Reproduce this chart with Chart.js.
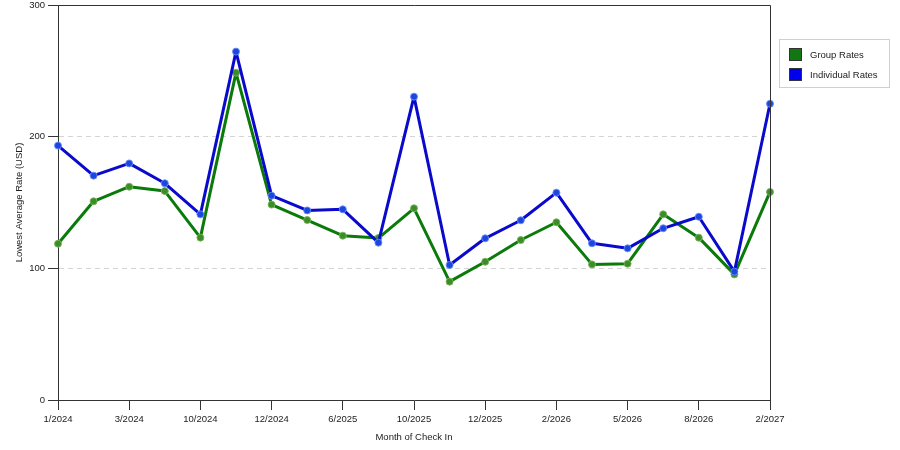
<!DOCTYPE html>
<html>
<head>
<meta charset="utf-8">
<script src="https://cdn.jsdelivr.net/npm/chart.js@4"></script>
<style>
  html, body { margin: 0; padding: 0; background: #fff; }
  #wrap { position: relative; width: 900px; height: 450px; }
  #legend { position: absolute; left: 779px; top: 39px; width: 109px; height: 47px;
    border: 1px solid #d0d0d0; font-family: "Liberation Sans", Arial, sans-serif; font-size: 9.5px; color: #222; }
  .item { position: absolute; left: 9px; height: 13px; line-height: 13px; white-space: nowrap; }
  .sw { display: inline-block; width: 11px; height: 11px; border: 1px solid #333; vertical-align: top; margin-right: 8px; }
</style>
</head>
<body>
<div id="wrap">
  <canvas id="c" width="900" height="450"></canvas>
  <div id="legend"></div>
</div>
<script>
const categories = ["1/2024", "", "3/2024", "", "10/2024", "", "12/2024", "", "6/2025", "", "10/2025", "",
  "12/2025", "", "2/2026", "", "5/2026", "", "8/2026", "", "2/2027"];
const groupRates = [118.7, 150.9, 162, 158.7, 123.3, 248.6, 148.4, 136.7, 124.8, 123, 145.6,
  89.9, 105, 121.5, 135, 103, 103.5, 141, 123.3, 95.4, 158];
const individualRates = [193.2, 170.4, 179.7, 164.6, 141, 264.6, 155.2, 144, 144.8, 119.5, 230.4,
  102.5, 122.8, 136.5, 157.5, 119, 115.2, 130.4, 139.2, 97.5, 225];
const seriesNames = ["Group Rates", "Individual Rates"];
const yTicks = [0, 100, 200, 300];

const FONT = { family: "'Liberation Sans', Arial, sans-serif", size: 9.5 };
const TXT = '#222';

const frame = {
  id: 'frame',
  afterDraw(chart) {
    const { ctx, chartArea: a } = chart;
    ctx.save();
    ctx.strokeStyle = '#333';
    ctx.lineWidth = 1;
    ctx.beginPath();
    ctx.moveTo(a.left, a.top + 0.5);
    ctx.lineTo(a.right + 0.5, a.top + 0.5);
    ctx.lineTo(a.right + 0.5, a.bottom);
    ctx.stroke();
    ctx.restore();
  }
};

const chart = new Chart(document.getElementById('c'), {
  type: 'line',
  data: {
    labels: categories,
    datasets: [
      {
        label: seriesNames[0], data: groupRates, order: 1,
        borderColor: '#0a7a0a', borderWidth: 3, backgroundColor: '#3d8f2a',
        borderJoinStyle: 'round', borderCapStyle: 'round',
        pointRadius: 3.5, pointBackgroundColor: '#3c8c28', pointBorderColor: 'rgba(120,180,90,0.9)',
        pointBorderWidth: 1, tension: 0
      },
      {
        label: seriesNames[1], data: individualRates, order: 0,
        borderColor: '#0a0acc', borderWidth: 3, backgroundColor: '#1f4fe0',
        borderJoinStyle: 'round', borderCapStyle: 'round',
        pointRadius: 3.5, pointBackgroundColor: '#1c46dc', pointBorderColor: 'rgba(100,140,255,0.9)',
        pointBorderWidth: 1, tension: 0
      }
    ]
  },
  options: {
    responsive: false,
    animation: false,
    devicePixelRatio: 1,
    layout: { padding: { left: 0, right: 130, top: 5, bottom: 0 } },
    plugins: { legend: { display: false }, tooltip: { enabled: false } },
    scales: {
      x: {
        type: 'category',
        offset: false,
        afterFit(s) { s.height = 50; s.paddingLeft = 0; s.paddingRight = 0; },
        grid: {
          drawOnChartArea: false, drawTicks: true, tickLength: 10,
          tickColor: (c) => (categories[c.index] ? '#333' : 'rgba(0,0,0,0)'),
          color: 'rgba(0,0,0,0)'
        },
        border: { display: true, color: '#333', width: 1 },
        ticks: { autoSkip: false, maxRotation: 0, minRotation: 0, color: TXT, font: FONT, padding: 4 },
        title: { display: true, text: 'Month of Check In', color: TXT, font: FONT, padding: { top: 4, bottom: 7 } }
      },
      y: {
        min: 0, max: 300,
        afterFit(s) { s.width = 58; s.paddingTop = 0; s.paddingBottom = 0; },
        afterBuildTicks(s) { s.ticks = yTicks.map(v => ({ value: v })); },
        grid: {
          drawOnChartArea: true, tickLength: 10, tickColor: '#333',
          color: (c) => (c.tick && (c.tick.value === 0 || c.tick.value === 300) ? 'rgba(0,0,0,0)' : '#d4d4d4')
        },
        border: { display: true, color: '#333', width: 1, dash: [5, 4] },
        ticks: { color: TXT, font: FONT, padding: 3 },
        title: { display: true, text: 'Lowest Average Rate (USD)', color: TXT, font: FONT, padding: { top: 14, bottom: 0 } }
      }
    }
  },
  plugins: [frame]
});

// legend built from series names and dataset colours
const legend = document.getElementById('legend');
const swatchColors = ['#117711', '#0000ee'];
seriesNames.forEach((name, i) => {
  const d = document.createElement('div');
  d.className = 'item';
  d.style.top = (8 + i * 20) + 'px';
  const s = document.createElement('span');
  s.className = 'sw';
  s.style.background = swatchColors[i];
  d.appendChild(s);
  d.appendChild(document.createTextNode(name));
  legend.appendChild(d);
});
</script>
</body>
</html>
